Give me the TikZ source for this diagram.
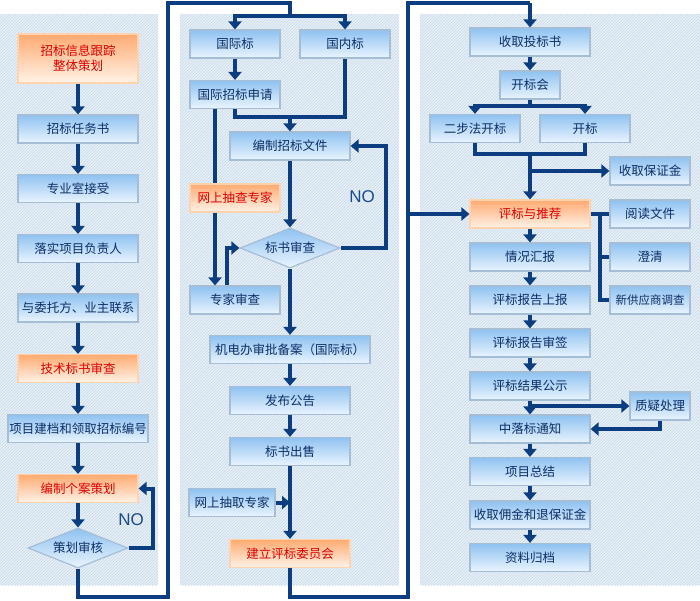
\documentclass[tikz,border=0pt]{standalone}
\usepackage{fontspec}
\newfontfamily\cjk{Noto Sans CJK SC}
\newfontfamily\latn{Liberation Sans}
\usepackage{tikz}
\usepackage{xcolor}
\usetikzlibrary{arrows.meta,shapes.geometric,patterns}

\definecolor{navy}{HTML}{0B3D80}
\definecolor{panel}{HTML}{E8F0F7}
\definecolor{hatch}{HTML}{C6D8E8}
\definecolor{bluetop}{HTML}{8FC2F1}
\definecolor{bluebot}{HTML}{EAF4FE}
\definecolor{boxedge}{HTML}{A6BDD6}
\definecolor{bluetext}{HTML}{0C2F66}
\definecolor{orgtop}{HTML}{FFAA70}
\definecolor{orgbot}{HTML}{FFF3E8}
\definecolor{orgedge}{HTML}{FFD3AD}
\definecolor{redtext}{HTML}{DD0000}
\definecolor{notecol}{HTML}{1A4A8A}

\tikzset{
  box/.style={rectangle, minimum height=28pt, inner sep=0pt, line width=1.2pt,
    font=\cjk\fontsize{12.5}{15}\selectfont},
  bluebox/.style={box, draw=boxedge, top color=bluetop, bottom color=bluebot, text=bluetext},
  orgbox/.style={box, draw=orgedge, top color=orgtop, bottom color=orgbot, text=redtext},
  check/.style={diamond, aspect=2.5, minimum width=100pt, minimum height=40pt, inner sep=0pt,
    line width=1.2pt, draw=boxedge, top color=bluetop, bottom color=bluebot, text=bluetext,
    font=\cjk\fontsize{12.5}{15}\selectfont},
  flow/.style={draw=navy, line width=4pt},
  arr/.style={flow, -{Triangle[width=13pt,length=8pt]}},
  notext/.style={font=\latn\fontsize{17}{17}\selectfont, text=notecol}
}

\begin{document}
\begin{tikzpicture}[x=1pt, y={(0pt,-1pt)}]
  \useasboundingbox (0,0) rectangle (700,600);

  % Panels
  \fill[panel] (0,14) rectangle (158,585);
  \fill[panel] (180,14) rectangle (399,585);
  \fill[panel] (420,14) rectangle (700,585);
  \fill[pattern=north east lines, pattern color=hatch] (0,14) rectangle (158,585);
  \fill[pattern=north east lines, pattern color=hatch] (180,14) rectangle (399,585);
  \fill[pattern=north east lines, pattern color=hatch] (420,14) rectangle (700,585);

  % Left column
  \node[orgbox, minimum width=120pt, minimum height=49pt, align=center] (zbxx) at (78,58.5) {招标信息跟踪\\整体策划};
  \node[bluebox, minimum width=120pt] (zbrws) at (78,129) {招标任务书};
  \node[bluebox, minimum width=120pt] (zyzjs) at (78,188.5) {专业室接受};
  \node[bluebox, minimum width=120pt] (lsxm) at (78,248.5) {落实项目负责人};
  \node[bluebox, minimum width=120pt] (ywtf) at (78,308) {与委托方、业主联系};
  \node[orgbox, minimum width=120pt] (jsbs) at (78,368.5) {技术标书审查};
  \node[bluebox, minimum width=140pt] (xmjd) at (78,428.5) {项目建档和领取招标编号};
  \node[orgbox, minimum width=120pt] (bzga) at (78,488.5) {编制个案策划};
  \node[check] (chsh) at (78,548) {策划审核};

  % Middle column
  \node[bluebox, minimum width=90pt] (gjb) at (235,44) {国际标};
  \node[bluebox, minimum width=90pt] (gnb) at (345,44) {国内标};
  \node[bluebox, minimum width=90pt] (gjzbsq) at (235,94.5) {国际招标申请};
  \node[bluebox, minimum width=120pt] (bzzb) at (290,146) {编制招标文件};
  \node[orgbox, minimum width=90pt] (wsczj) at (235,198) {网上抽查专家};
  \node[check] (bssc) at (290,248) {标书审查};
  \node[bluebox, minimum width=90pt] (zjsc) at (235,300) {专家审查};
  \node[bluebox, minimum width=160pt] (jdb) at (290,349.5) {机电办审批备案（国际标）};
  \node[bluebox, minimum width=120pt] (fbgg) at (290,400.5) {发布公告};
  \node[bluebox, minimum width=120pt] (bscs) at (290,451.5) {标书出售};
  \node[bluebox, minimum width=86pt] (wsqzj) at (232,502.5) {网上抽取专家};
  \node[orgbox, minimum width=120pt] (jlpw) at (290,553.5) {建立评标委员会};

  % Right column
  \node[bluebox, minimum width=120pt] (sqtbs) at (530,42) {收取投标书};
  \node[bluebox, minimum width=60pt] (kbh) at (530,85) {开标会};
  \node[bluebox, minimum width=90pt] (ebf) at (475,128.5) {二步法开标};
  \node[bluebox, minimum width=90pt] (kb) at (585,128.5) {开标};
  \node[bluebox, minimum width=80pt] (bzj) at (650,171) {收取保证金};
  \node[orgbox, minimum width=120pt] (pbtj) at (530,214) {评标与推荐};
  \node[bluebox, minimum width=80pt] (ydwj) at (650,214) {阅读文件};
  \node[bluebox, minimum width=120pt] (qkhb) at (530,257) {情况汇报};
  \node[bluebox, minimum width=80pt] (cq) at (650,257) {澄清};
  \node[bluebox, minimum width=120pt] (pbsb) at (530,300) {评标报告上报};
  \node[bluebox, minimum width=80pt, font=\cjk\fontsize{11.5}{14}\selectfont] (xgys) at (650,300) {新供应商调查};
  \node[bluebox, minimum width=120pt] (pbsq) at (530,343) {评标报告审签};
  \node[bluebox, minimum width=120pt] (pbgs) at (530,386) {评标结果公示};
  \node[bluebox, minimum width=60pt] (zyl) at (660,406) {质疑处理};
  \node[bluebox, minimum width=120pt] (zlbtz) at (530,429) {中落标通知};
  \node[bluebox, minimum width=120pt] (xmzj) at (530,471.5) {项目总结};
  \node[bluebox, minimum width=120pt] (sqyj) at (530,515) {收取佣金和退保证金};
  \node[bluebox, minimum width=120pt] (zlgd) at (530,557.5) {资料归档};

  % NO labels
  \node[notext] (no1) at (131,520) {NO};
  \node[notext] (no2) at (362,197) {NO};

  % Helper points
  \coordinate (lb) at (168,597);
  \coordinate (lt) at (290,3);
  \coordinate (ls) at (290,16);
  \coordinate (mj) at (290,117);
  \coordinate (mb) at (408,597);
  \coordinate (mt) at (530,3);
  \coordinate (rb) at (408,214);
  \coordinate (rs) at (530,106);
  \coordinate (rm) at (530,154);
  \coordinate (rv) at (600,214);

  % Left arrows
  \draw[arr] (zbxx) -- (zbrws);
  \draw[arr] (zbrws) -- (zyzjs);
  \draw[arr] (zyzjs) -- (lsxm);
  \draw[arr] (lsxm) -- (ywtf);
  \draw[arr] (ywtf) -- (jsbs);
  \draw[arr] (jsbs) -- (xmjd);
  \draw[arr] (xmjd) -- (bzga);
  \draw[arr] (bzga) -- (chsh);
  \draw[arr] (chsh.east) -- ++(24,0) |- (bzga.east);

  % Frame to middle column
  \draw[flow] (chsh.south) |- (lb) |- (lt) -- (ls);
  \draw[arr] (ls) -| (gjb.north);
  \draw[arr] (ls) -| (gnb.north);

  % Middle arrows
  \draw[arr] (gjb) -- (gjzbsq);
  \draw[flow] (gjzbsq.south) |- (mj) -| (gnb.south);
  \draw[arr] (mj) -- (bzzb.north);
  \draw[flow] ([xshift=-20pt]gjzbsq.south) -- ([xshift=-20pt]wsczj.north);
  \draw[arr] ([xshift=-20pt]wsczj.south) -- ([xshift=-20pt]zjsc.north);
  \draw[arr] ([xshift=-8pt]zjsc.north) |- (bssc.west);
  \draw[arr] (bzzb) -- (bssc);
  \draw[arr] (bssc.east) -- ++(45,0) |- (bzzb.east);
  \draw[arr] (bssc.south) -- (jdb.north);
  \draw[arr] (jdb) -- (fbgg);
  \draw[arr] (fbgg) -- (bscs);
  \draw[arr] (bscs) -- (jlpw);
  \draw[arr] (wsqzj.east) -- (wsqzj.east -| bscs.south);

  % Frame to right column
  \draw[flow] (jlpw.south) |- (mb) |- (mt);
  \draw[arr] (mt) -- (sqtbs.north);
  \draw[arr] (rb) -- (pbtj.west);

  % Right arrows
  \draw[arr] (sqtbs) -- (kbh);
  \draw[flow] (kbh.south) -- (rs);
  \draw[arr] (rs) -| (ebf.north);
  \draw[arr] (rs) -| (kb.north);
  \draw[flow] (ebf.south) |- (rm) -| (kb.south);
  \draw[arr] (rm) -- (pbtj.north);
  \draw[arr] (rm |- bzj.west) -- (bzj.west);
  \draw[flow] (pbtj.east) -- (ydwj.west);
  \draw[flow] (rv) |- (xgys.west);
  \draw[flow] (rv |- cq.west) -- (cq.west);
  \draw[arr] (pbtj) -- (qkhb);
  \draw[arr] (qkhb) -- (pbsb);
  \draw[arr] (pbsb) -- (pbsq);
  \draw[arr] (pbsq) -- (pbgs);
  \draw[arr] (pbgs) -- (zlbtz);
  \draw[arr] (pbgs.south |- zyl.west) -- (zyl.west);
  \draw[arr] (zyl.south) |- (zlbtz.east);
  \draw[arr] (zlbtz) -- (xmzj);
  \draw[arr] (xmzj) -- (sqyj);
  \draw[arr] (sqyj) -- (zlgd);
\end{tikzpicture}
\end{document}
